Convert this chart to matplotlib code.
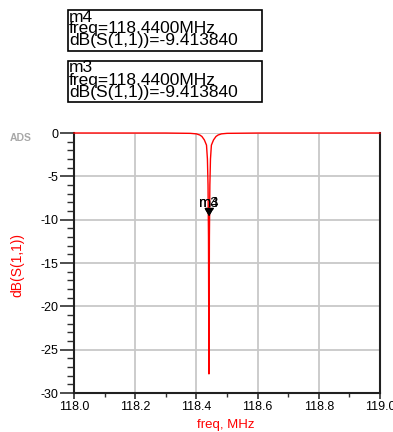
import matplotlib
matplotlib.use("Agg")
import matplotlib.pyplot as plt
from matplotlib.patches import Rectangle
from matplotlib.ticker import MultipleLocator

plt.rcParams["font.family"] = ["Liberation Sans", "DejaVu Sans"]

# S11 sweep
freq = [118.0, 118.3, 118.38, 118.40, 118.411, 118.418, 118.426, 118.433,
        118.436, 118.438, 118.4395, 118.4402, 118.441, 118.4418, 118.4425,
        118.444, 118.446, 118.449, 118.456, 118.464, 118.471, 118.482,
        118.5, 118.6, 119.0]
s11_db = [0, -0.005, -0.04, -0.1, -0.23, -0.4, -0.8, -1.4,
          -3.0, -6.0, -12.0, -20.0, -27.8, -20.0, -12.0,
          -6.0, -3.0, -1.4, -0.8, -0.4, -0.23, -0.1,
          -0.04, -0.005, 0]

markers = ["m4", "m3"]
marker_freq = [118.44, 118.44]
marker_db = [-9.413840, -9.413840]

xticks = [118.0, 118.2, 118.4, 118.6, 118.8, 119.0]
yticks = [0, -5, -10, -15, -20, -25, -30]

fig = plt.figure(figsize=(3.93, 4.32), dpi=100)
ax = fig.add_axes([74 / 393, 1 - 393 / 432, 306 / 393, 260 / 432])

ax.plot(freq, s11_db, color="#ff0000", lw=1.0, zorder=3, clip_on=False)

tri = [(0, 0), (-1, 1.7), (1, 1.7)]
for name, f, d in zip(markers, marker_freq, marker_db):
    ax.plot([f], [d], marker=tri, color="black", markersize=10, zorder=4,
            clip_on=False)
    ax.annotate(name, (f, d), xytext=(0, 8), textcoords="offset points",
                ha="center", va="center", fontsize=10.5, color="black",
                zorder=5)

ax.set_xlim(118.0, 119.0)
ax.set_ylim(-30, 0)
ax.set_xticks(xticks)
ax.set_yticks(yticks)
ax.set_xticklabels([f"{v:.1f}" for v in xticks])
ax.set_yticklabels([str(v) for v in yticks])
ax.xaxis.set_minor_locator(MultipleLocator(0.1))
ax.yaxis.set_minor_locator(MultipleLocator(1))
ax.tick_params(which="major", direction="out", length=10, width=1.2,
               labelsize=9, pad=1, color="#303030")
ax.tick_params(which="minor", direction="out", length=5, width=1.0,
               color="#303030")
ax.tick_params(axis="x", which="major", length=4, pad=1.5)
ax.tick_params(axis="x", which="minor", length=3)

ax.grid(True, which="major", color="#c8c8c8", lw=1.3)
ax.set_axisbelow(True)
ax.spines["top"].set_visible(False)
for s in ["left", "bottom", "right"]:
    ax.spines[s].set_linewidth(1.5)
    ax.spines[s].set_color("#202020")

fig.text(226 / 393, 1 - 425 / 432, "freq, MHz", color="#ff0000",
         fontsize=9.5, ha="center", va="center")
fig.text(17 / 393, 1 - 265 / 432, "dB(S(1,1))", color="#ff0000", fontsize=10,
         rotation=90, ha="center", va="center")
fig.text(21 / 393, 1 - 138 / 432, "ADS", color="#a8a8a8", fontsize=7.5,
         fontweight="bold", ha="center", va="center")

# marker readout boxes
boxes_top = [10, 61]
for name, f, d, top in zip(markers, marker_freq, marker_db, boxes_top):
    fig.patches.append(Rectangle((68 / 393, 1 - (top + 41) / 432), 194 / 393,
                                 41 / 432, transform=fig.transFigure,
                                 fill=False, ec="black", lw=1.2))
    lines = [name, f"freq={f:.4f}MHz", f"dB(S(1,1))={d:.6f}"]
    for i, line in enumerate(lines):
        fig.text(69 / 393, 1 - (top + 11.5 + 12 * i) / 432, line,
                 fontsize=12.5, ha="left", va="baseline")

fig.savefig("out.png", dpi=100)
